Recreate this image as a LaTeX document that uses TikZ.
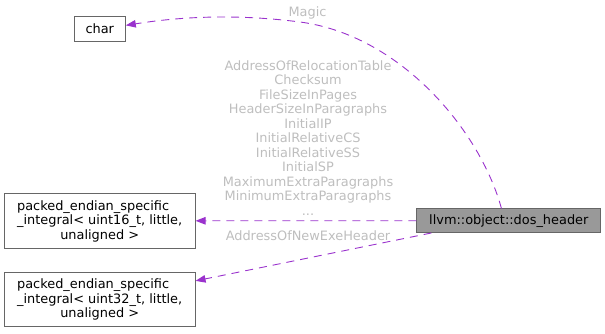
\documentclass[tikz,border=0pt]{standalone}
\usepackage{fontspec}
\setmainfont{DejaVu Sans}
\usetikzlibrary{arrows.meta}
\definecolor{edgepurple}{HTML}{9A32CD}
\definecolor{labelgrey}{HTML}{BEBEBE}
\definecolor{boxborder}{HTML}{666666}
\definecolor{mainfill}{HTML}{999999}
\begin{document}
\begin{tikzpicture}[x=1pt,y=-1pt,
  every node/.style={font=\fontsize{12.9}{14.5}\selectfont},
  classbox/.style={draw=boxborder,line width=1pt,fill=white,inner sep=0pt,align=center},
  mainbox/.style={classbox,fill=mainfill},
  member/.style={text=labelgrey,inner sep=0pt,align=center},
  uses/.style={draw=edgepurple,line width=0.9pt,dash pattern=on 8pt off 6pt,
    -{Triangle[length=10pt,width=7.5pt,fill=edgepurple]}}]
\useasboundingbox (0,0) rectangle (605,333);

% classes
\node[classbox,minimum width=51pt,minimum height=25pt] (char) at (99.8,29) {char};
\node[classbox,minimum width=190.7pt,minimum height=55pt] (u16) at (99.7,220.8)
  {\begin{tabular}[b]{@{}l@{}}packed\_endian\_specific\\\_integral< uint16\_t, little,\end{tabular}\\ unaligned >};
\node[classbox,minimum width=190.7pt,minimum height=54.4pt] (u32) at (99.7,299.5)
  {\begin{tabular}[b]{@{}l@{}}packed\_endian\_specific\\\_integral< uint32\_t, little,\end{tabular}\\ unaligned >};
\node[mainbox,minimum width=184pt,minimum height=23.5pt] (dos) at (508.8,220.7)
  {llvm::object::dos\_header};

% member relations
\draw[uses] (dos.121.9) .. controls (480,130) and (400,35) .. (300,22)
  .. controls (220,11.6) and (160,20) .. (char.8.9);
\draw[uses] (dos.west) -- (u16.east);
\draw[uses] (dos.189.3) -- (u32.11.6);

% member names
\node[member,anchor=base] (lmagic) at (307.5,16) {Magic};
\node[member,anchor=north] (l16) at (308,60)
  {AddressOfRelocationTable\\Checksum\\FileSizeInPages\\HeaderSizeInParagraphs\\InitialIP\\InitialRelativeCS\\InitialRelativeSS\\InitialSP\\MaximumExtraParagraphs\\MinimumExtraParagraphs\\...};
\node[member,anchor=base] (l32) at (308,240) {AddressOfNewExeHeader};
\end{tikzpicture}
\end{document}
